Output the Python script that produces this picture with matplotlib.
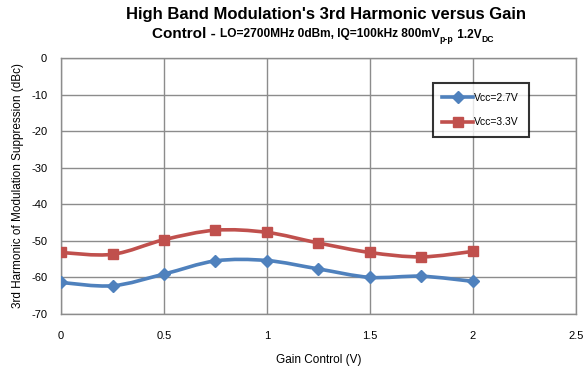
import numpy as np
import matplotlib.pyplot as plt
from matplotlib.path import Path
from matplotlib.patches import PathPatch
from matplotlib.lines import Line2D

plt.rcParams['font.family'] = ['Liberation Sans', 'DejaVu Sans']
plt.rcParams['axes.unicode_minus'] = False

gain = [0, 0.25, 0.5, 0.75, 1.0, 1.25, 1.5, 1.75, 2.0]
vcc27 = [-61.4, -62.3, -59.1, -55.5, -55.4, -57.7, -60.0, -59.7, -61.1]
vcc33 = [-53.2, -53.7, -49.7, -47.1, -47.7, -50.6, -53.2, -54.4, -52.9]
labels = ["Vcc=2.7V", "Vcc=3.3V"]

blue = "#4F81BD"
red = "#C0504D"


def smooth_path(x, y):
    # excel-like smoothed line: cubic bezier through the points
    x = np.asarray(x, float)
    y = np.asarray(y, float)
    verts = [(x[0], y[0])]
    codes = [Path.MOVETO]
    t = 1.0 / 6
    for i in range(len(x) - 1):
        x0, y0 = (x[i - 1], y[i - 1]) if i > 0 else (x[i], y[i])
        x3, y3 = (x[i + 2], y[i + 2]) if i + 2 < len(x) else (x[i + 1], y[i + 1])
        c1 = (x[i] + (x[i + 1] - x0) * t, y[i] + (y[i + 1] - y0) * t)
        c2 = (x[i + 1] - (x3 - x[i]) * t, y[i + 1] - (y3 - y[i]) * t)
        verts += [c1, c2, (x[i + 1], y[i + 1])]
        codes += [Path.CURVE4] * 3
    return Path(verts, codes)


fig = plt.figure(figsize=(5.87, 3.75), dpi=100)
ax = fig.add_axes([0.104, 0.163, 0.877, 0.682])

for ys, col, mk, ms in [(vcc27, blue, "D", 6), (vcc33, red, "s", 7)]:
    ax.add_patch(PathPatch(smooth_path(gain, ys), facecolor="none",
                           edgecolor=col, lw=2.6, zorder=3))
    ax.plot(gain, ys, linestyle="none", marker=mk, ms=ms, color=col, zorder=4)

ax.set_xlim(0, 2.5)
ax.set_ylim(-70, 0)
ax.set_xticks(np.arange(0, 2.51, 0.5))
ax.set_xticklabels(["0", "0.5", "1", "1.5", "2", "2.5"])
ax.set_yticks(np.arange(-70, 1, 10))
ax.grid(True, color="#8c8c8c", lw=1)
ax.set_axisbelow(True)
for s in ax.spines.values():
    s.set_color("#8c8c8c")
    s.set_linewidth(1)
ax.tick_params(length=0, labelsize=8, pad=10)
ax.tick_params(axis="x", pad=12)

ax.set_xlabel("Gain Control (V)", fontsize=8.5, labelpad=10)
ax.set_ylabel("3rd Harmonic of Modulation Suppression (dBc)", fontsize=8.5, labelpad=5)

handles = [Line2D([], [], color=blue, lw=2.6, marker="D", ms=6),
           Line2D([], [], color=red, lw=2.6, marker="s", ms=7)]
leg = ax.legend(handles, labels, loc="upper left", bbox_to_anchor=(0.722, 0.902),
                borderaxespad=0, fontsize=7.5, frameon=True, fancybox=False,
                handlelength=3.0, handletextpad=0.1, labelspacing=1.4, borderpad=0.9)
leg.get_frame().set_edgecolor("black")
leg.get_frame().set_linewidth(1.5)

fig.text(0.555, 0.96, "High Band Modulation's 3rd Harmonic versus Gain",
         ha="center", va="center", fontsize=12, fontweight="bold")

# second title line, pieces placed one after another
renderer = fig.canvas.get_renderer()
pieces = [("Control - ", 11, 0), ("LO=2700MHz 0dBm, IQ=100kHz 800mV", 8.6, 0),
          ("p-p", 6.2, -0.012), (" 1.2V", 8.6, 0), ("DC", 6.2, -0.012)]
xpos = 0.259
for txt, size, dy in pieces:
    t = fig.text(xpos, 0.9 + dy, txt, ha="left", va="baseline",
                 fontsize=size, fontweight="bold")
    bb = t.get_window_extent(renderer)
    xpos += bb.width / fig.bbox.width

fig.savefig("out.png", dpi=100)
